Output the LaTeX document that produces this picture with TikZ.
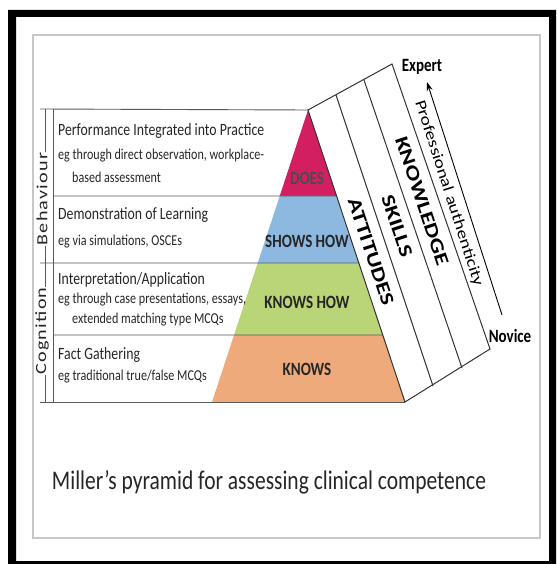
\documentclass[tikz,border=0pt]{standalone}
\usepackage{graphicx}
\usepackage{fontspec}
\setmainfont{Carlito}
\usetikzlibrary{calc,arrows.meta}
\definecolor{doescol}{HTML}{D41E62}
\definecolor{showscol}{HTML}{8DB9E0}
\definecolor{knowshowcol}{HTML}{B9D577}
\definecolor{knowscol}{HTML}{EFAA7C}
\newcommand{\hightext}[1]{\scalebox{1}[1.25]{#1}}
\newcommand{\widetext}[1]{\scalebox{1.3}[1]{#1}}
\tikzset{
	rowline/.style={line width=0.9pt, color=black!65},
	bandline/.style={line width=1pt, color=black!80},
	rowhead/.style={anchor=west, inner sep=0pt, text=black!85, font=\fontsize{13.8}{13.8}\selectfont},
	rownote/.style={anchor=west, inner sep=0pt, text=black!85, font=\fontsize{12.1}{12.1}\selectfont},
	level/.style={inner sep=0pt, text=black!85, font=\fontsize{15}{15}\selectfont\bfseries},
	bandtext/.style={rotate=-71.6, inner sep=0pt, font=\fontsize{19}{19}\selectfont\bfseries},
	sidetext/.style={rotate=90, fill=white, inner sep=1pt, text=black!85, font=\fontsize{15.5}{15.5}\selectfont\addfontfeature{LetterSpace=6}},
	endtext/.style={inner sep=0pt, font=\fontsize{15}{15}\selectfont\bfseries}
}

\begin{document}
\begin{tikzpicture}[x=1pt, y=-1pt]
		\useasboundingbox (0,0) rectangle (556,564);
		%%%%% FRAME %%%%%
		\fill[black, even odd rule] (8,10) rectangle (556,564) (16,17) rectangle (549,561);
		\draw[line width=2pt, color=black!22] (33,35) rectangle (540,538);
		
		%%%%% PYRAMID %%%%%
		\coordinate (apex) at (308,110);
		\coordinate (bl) at (212,402);
		\coordinate (br) at (405,402);
		\coordinate (l1) at ($(apex)!0.2945!(bl)$);
		\coordinate (r1) at ($(apex)!0.2945!(br)$);
		\coordinate (l2) at ($(apex)!0.524!(bl)$);
		\coordinate (r2) at ($(apex)!0.524!(br)$);
		\coordinate (l3) at ($(apex)!0.7705!(bl)$);
		\coordinate (r3) at ($(apex)!0.7705!(br)$);
		
		\fill[doescol] (apex) -- (l1) -- (r1) -- cycle;
		\fill[showscol] (l1) -- (l2) -- (r2) -- (r1) -- cycle;
		\fill[knowshowcol] (l2) -- (l3) -- (r3) -- (r2) -- cycle;
		\fill[knowscol] (l3) -- (bl) -- (br) -- (r3) -- cycle;
		
		\node[level, text=black!70] (does) at (307,178) {\hightext{DOES}};
		\node[level] (showshow) at (307,241) {\hightext{SHOWS HOW}};
		\node[level] (knowshow) at (307,302) {\hightext{KNOWS HOW}};
		\node[level] (knows) at (307,369) {\hightext{KNOWS}};
		
		%%%%% TABLE %%%%%
		\draw[rowline] (40,109) -- (apex);
		\draw[rowline] (53,196) -- (r1);
		\draw[rowline] (40,263) -- (r2);
		\draw[rowline] (53,335) -- (r3);
		\draw[rowline] (40,402) -- (br);
		\draw[rowline] (53,109) -- (53,402);
		\draw[rowline] (45,109) -- (45,402);
		
		\node[sidetext] (behaviour) at (42,199) {\widetext{Behaviour}};
		\node[sidetext] (cognition) at (42,331) {\widetext{Cognition}};
		
		\node[rowhead] (perf) at (58,131) {\hightext{Performance Integrated into Practice}};
		\node[rownote] (perfa) at (58,156) {\hightext{eg through direct observation, workplace-}};
		\node[rownote] (perfb) at (72,177) {\hightext{based assessment}};
		\node[rowhead] (demo) at (58,215) {\hightext{Demonstration of Learning}};
		\node[rownote] (demoa) at (58,242) {\hightext{eg via simulations, OSCEs}};
		\node[rowhead] (inter) at (58,280) {\hightext{Interpretation/Application}};
		\node[rownote] (intera) at (58,300) {\hightext{eg through case presentations, essays,}};
		\node[rownote] (interb) at (72,320) {\hightext{extended matching type MCQs}};
		\node[rowhead] (fact) at (58,355) {\hightext{Fact Gathering}};
		\node[rownote] (facta) at (58,377) {\hightext{eg traditional true/false MCQs}};
		
		%%%%% BANDS %%%%%
		\coordinate (t1) at (336,95);
		\coordinate (t2) at (364,80);
		\coordinate (t3) at (392,64);
		\coordinate (b1) at (433,386);
		\coordinate (b2) at (462,368);
		\coordinate (b3) at (490,349);
		
		\draw[bandline] (apex) -- (t3) -- (b3) -- (br) -- cycle;
		\draw[bandline] (t1) -- (b1);
		\draw[bandline] (t2) -- (b2);
		
		\node[bandtext] (attitudes) at (371,252) {\widetext{ATTITUDES}};
		\node[bandtext] (skills) at (397,226) {\widetext{SKILLS}};
		\node[bandtext] (knowledge) at (422,201) {\widetext{KNOWLEDGE}};
		
		%%%%% AXIS %%%%%
		\coordinate (authtop) at (427,82);
		\coordinate (authbot) at (502,315);
		\draw[line width=0.9pt, -{Stealth[length=9pt,width=6pt]}] (authbot) -- (authtop)
			node[pos=0.54, sloped, below=3pt, font=\fontsize{15.5}{15.5}\selectfont] (auth) {\scalebox{1.25}[1]{Professional authenticity}};
		\node[endtext] (expert) at (422,67) {\hightext{Expert}};
		\node[endtext] (novice) at (510,336) {\hightext{Novice}};
		
		\node[text=black!85, font=\fontsize{21.5}{21.5}\selectfont] (title) at (269,482) {\hightext{Miller's pyramid for assessing clinical competence}};
	\end{tikzpicture}
\end{document}
